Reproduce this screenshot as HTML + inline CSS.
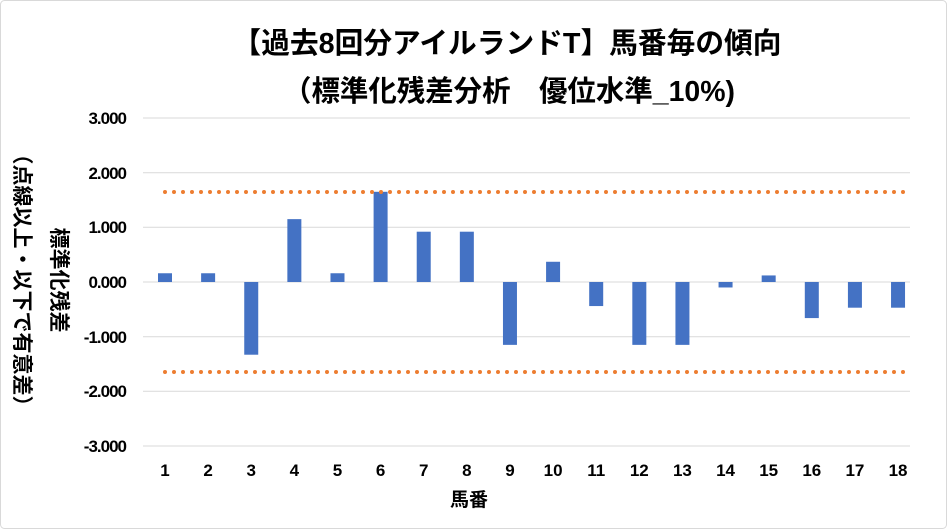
<!DOCTYPE html>
<html><head><meta charset="utf-8"><style>
html,body{margin:0;padding:0;background:#fff}
body{width:947px;height:529px;overflow:hidden;position:relative;font-family:"Liberation Sans","Noto Sans CJK JP",sans-serif}
</style></head><body>
<svg width="947" height="529" xmlns="http://www.w3.org/2000/svg" style="position:absolute;left:0;top:0">
<rect x="0.5" y="0.5" width="946" height="528" rx="4" fill="#fff" stroke="#d9d9d9"/>
<g font-family="Liberation Sans, Noto Sans CJK JP, sans-serif" font-weight="bold" fill="#000">
<text x="507" y="53" font-size="29" text-anchor="middle" textLength="549" lengthAdjust="spacingAndGlyphs">【過去8回分アイルランドT】馬番毎の傾向</text>
<text x="509" y="101" font-size="29" text-anchor="middle" textLength="452" lengthAdjust="spacingAndGlyphs">（標準化残差分析　優位水準_10%)</text>
</g>
<g stroke="#d9d9d9" stroke-width="1">
<line x1="143" x2="910" y1="118" y2="118"/><line x1="143" x2="910" y1="172.7" y2="172.7"/>
<line x1="143" x2="910" y1="227.3" y2="227.3"/><line x1="143" x2="910" y1="282" y2="282"/>
<line x1="143" x2="910" y1="336.7" y2="336.7"/><line x1="143" x2="910" y1="391.3" y2="391.3"/>
<line x1="143" x2="910" y1="446" y2="446"/>
</g>
<g font-size="17" font-weight="bold" text-anchor="end" font-family="Liberation Sans, sans-serif" letter-spacing="-1">
<text x="126" y="124">3.000</text><text x="126" y="179">2.000</text><text x="126" y="233">1.000</text>
<text x="126" y="288">0.000</text><text x="126" y="343">-1.000</text><text x="126" y="397">-2.000</text>
<text x="126" y="452">-3.000</text>
</g>
<g fill="#4472c4" id="bars"></g>
<g stroke="#ed7d31" stroke-width="4" stroke-linecap="round" stroke-dasharray="0 9">
<line x1="165" x2="905" y1="192" y2="192"/><line x1="165" x2="905" y1="372" y2="372"/>
</g>
<g font-size="17" font-weight="bold" text-anchor="middle" id="xl"></g>
<text x="469" y="506" font-size="19" font-weight="bold" text-anchor="middle">馬番</text>
<g font-size="21" font-weight="bold" text-anchor="middle">
<text transform="translate(52,280) rotate(90)">標準化残差</text>
<text transform="translate(15,280) rotate(90)">（点線以上・以下で有意差）</text>
</g>
</svg>
<script>
var v=[0.16,0.16,-1.33,1.15,0.16,1.65,0.92,0.92,-1.15,0.37,-0.44,-1.15,-1.15,-0.1,0.12,-0.66,-0.47,-0.47];
var b=document.getElementById('bars'),x=document.getElementById('xl'),ns="http://www.w3.org/2000/svg";
v.forEach(function(d,i){var cx=165+i*43.12;var r=document.createElementNS(ns,'rect');
var h=Math.abs(d)*54.67;r.setAttribute('x',cx-7);r.setAttribute('width',14);
r.setAttribute('y',d>0?282-h:282);r.setAttribute('height',h);b.appendChild(r);
var t=document.createElementNS(ns,'text');t.setAttribute('x',cx);t.setAttribute('y',476);t.textContent=i+1;x.appendChild(t);});
</script>
</body></html>
